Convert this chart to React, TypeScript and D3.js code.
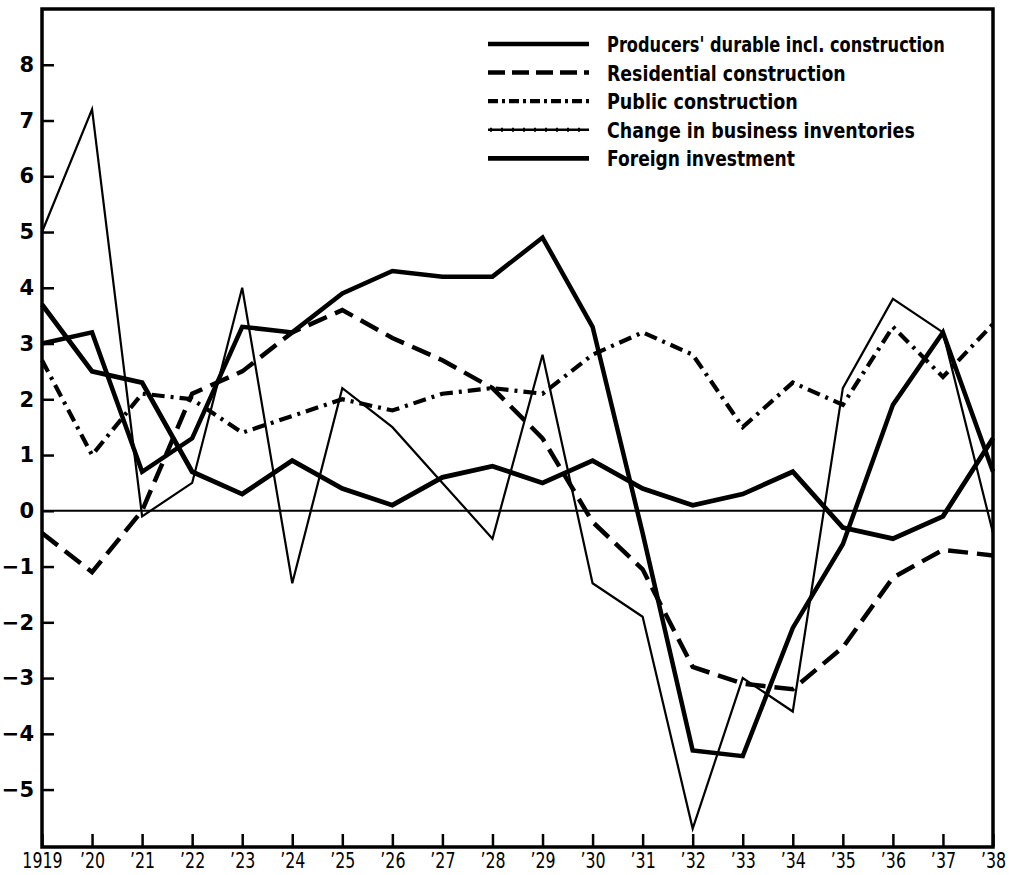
import React, { useEffect, useRef } from 'react';
import * as d3 from 'd3';

// years along the bottom axis
const years = d3.range(1919, 1939);

// percent values, one per year 1919..1938
const producers = [3.0, 3.2, 0.7, 1.3, 3.3, 3.2, 3.9, 4.3, 4.2, 4.2, 4.9, 3.3, -0.4, -4.3, -4.4, -2.1, -0.6, 1.9, 3.2, 0.7];
const residential = [-0.4, -1.1, 0.0, 2.1, 2.5, 3.2, 3.6, 3.1, 2.7, 2.2, 1.3, -0.2, -1.05, -2.8, -3.1, -3.2, -2.45, -1.2, -0.7, -0.8];
const publicCons = [2.7, 1.0, 2.1, 2.0, 1.4, 1.7, 2.0, 1.8, 2.1, 2.2, 2.1, 2.8, 3.2, 2.8, 1.5, 2.3, 1.9, 3.3, 2.4, 3.35];
const inventories = [5.0, 7.2, -0.1, 0.5, 4.0, -1.3, 2.2, 1.5, 0.5, -0.5, 2.8, -1.3, -1.9, -5.7, -3.0, -3.6, 2.2, 3.8, 3.2, -0.4];
const foreign = [3.7, 2.5, 2.3, 0.7, 0.3, 0.9, 0.4, 0.1, 0.6, 0.8, 0.5, 0.9, 0.4, 0.1, 0.3, 0.7, -0.3, -0.5, -0.1, 1.3];

const yTicks = d3.range(-5, 9);

const seriesNames = [
  "Producers' durable incl. construction",
  'Residential construction',
  'Public construction',
  'Change in business inventories',
  'Foreign investment',
];
// printed width of each legend label (the original type is condensed)
const nameWidths = [338, 239, 191, 308, 188];

const styles = [
  { width: 4.5, dash: null },
  { width: 4.5, dash: '20,9' },
  { width: 4.2, dash: '13,6,3,6' },
  { width: 2.2, dash: null },
  { width: 4.8, dash: null },
];

const sans = "'DejaVu Sans', sans-serif";

function App() {
  const ref = useRef<SVGSVGElement>(null);

  useEffect(() => {
    const svg = d3.select(ref.current);
    svg.selectAll('*').remove();

    const left = 42, right = 993, top = 9, bottom = 847;
    const x = d3.scaleLinear().domain([1919, 1938]).range([left, right]);
    const y = d3.scaleLinear().domain([-6.03, 9]).range([bottom, top]);

    // zero line
    svg.append('line')
      .attr('x1', left).attr('x2', right)
      .attr('y1', y(0)).attr('y2', y(0))
      .attr('stroke', '#000').attr('stroke-width', 2);

    const line = d3.line<number>()
      .x((d, i) => x(years[i]))
      .y(d => y(d));

    [producers, residential, publicCons, inventories, foreign].forEach((s, k) => {
      svg.append('path')
        .datum(s)
        .attr('fill', 'none')
        .attr('stroke', '#000')
        .attr('stroke-width', styles[k].width)
        .attr('stroke-dasharray', styles[k].dash)
        .attr('stroke-linejoin', 'miter')
        .attr('d', line);
    });

    // y axis
    const ya = svg.append('g')
      .attr('transform', `translate(${left},0)`)
      .call(d3.axisLeft(y).tickValues(yTicks).tickSize(-12).tickPadding(8));
    ya.select('.domain').remove();
    ya.selectAll('line').attr('stroke-width', 2.5);
    ya.selectAll('text')
      .attr('font-family', sans)
      .attr('font-weight', 'bold')
      .attr('font-size', 21)
      .attr('fill', '#000');

    // x axis
    const xa = svg.append('g')
      .attr('transform', `translate(0,${bottom})`)
      .call(d3.axisBottom(x).tickValues(years).tickSize(-13).tickPadding(5)
        .tickFormat(d => (d === 1919 ? '1919' : '\u2019' + String(d).slice(2))));
    xa.select('.domain').remove();
    xa.selectAll('line').attr('stroke-width', 2.5);
    xa.selectAll('text')
      .attr('font-family', sans)
      .attr('font-size', 22)
      .attr('transform', 'scale(0.72,1)')
      .attr('fill', '#000');

    // frame
    svg.append('rect')
      .attr('x', left).attr('y', top)
      .attr('width', right - left).attr('height', bottom - top)
      .attr('fill', 'none').attr('stroke', '#000').attr('stroke-width', 3.5);

    // legend
    const lg = svg.append('g');
    seriesNames.forEach((name, k) => {
      const ly = 44 + k * 28.6;
      lg.append('line')
        .attr('x1', 488).attr('x2', 589)
        .attr('y1', ly).attr('y2', ly)
        .attr('stroke', '#000')
        .attr('stroke-width', k === 3 ? 2.5 : styles[k].width)
        .attr('stroke-dasharray', k === 1 ? '17,7' : k === 2 ? '10,4,3,4' : null);
      if (k === 3) {
        lg.append('line')
          .attr('x1', 490).attr('x2', 589)
          .attr('y1', ly).attr('y2', ly)
          .attr('stroke', '#000').attr('stroke-width', 4)
          .attr('stroke-dasharray', '2,9');
      }
      const t = lg.append('text')
        .attr('font-family', sans)
        .attr('font-weight', 'bold')
        .attr('font-size', 22)
        .attr('fill', '#000')
        .text(name);
      // squeeze to the condensed width of the original lettering
      const w = (t.node() as SVGTextElement).getComputedTextLength() || nameWidths[k];
      t.attr('transform', `translate(607,${ly + 8}) scale(${nameWidths[k] / w},1)`);
    });
  }, []);

  return (
    <svg ref={ref} width={1015} height={875}
      style={{ position: 'absolute', left: 0, top: 0, background: '#fff' }} />
  );
}

export default App;
